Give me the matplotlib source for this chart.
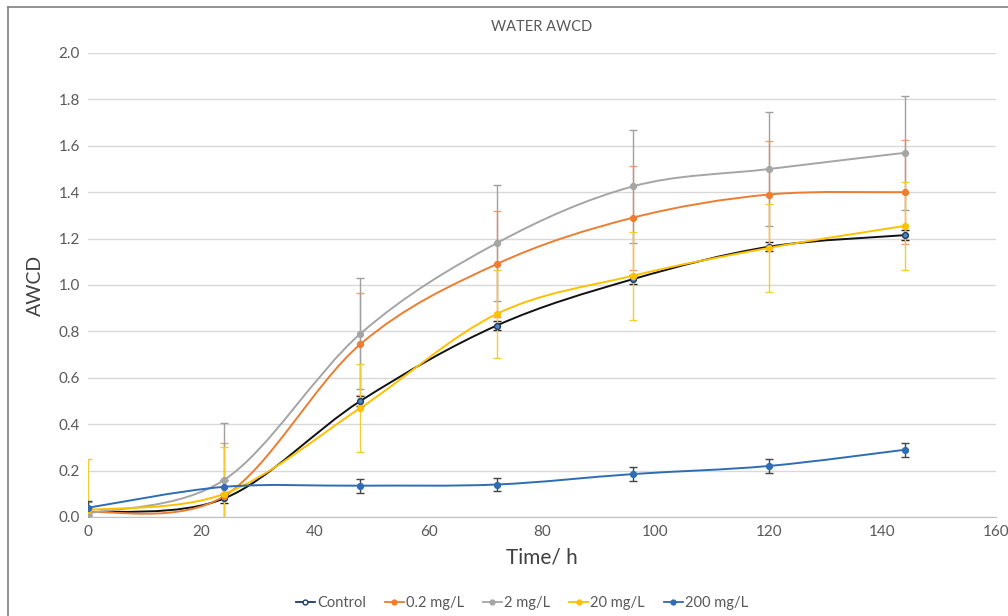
import numpy as np
import matplotlib
matplotlib.use("Agg")
import matplotlib.pyplot as plt
from matplotlib.path import Path
from matplotlib.patches import PathPatch
from matplotlib.lines import Line2D

plt.rcParams['font.family'] = ['Lato', 'DejaVu Sans']

time_h = [0, 24, 48, 72, 96, 120, 144]
series_names = ["Control", "0.2 mg/L", "2 mg/L", "20 mg/L", "200 mg/L"]
control = [0.02, 0.08, 0.50, 0.825, 1.025, 1.165, 1.215]
mg_0_2 = [0.02, 0.09, 0.745, 1.09, 1.29, 1.39, 1.40]
mg_2 = [0.015, 0.16, 0.79, 1.18, 1.425, 1.50, 1.57]
mg_20 = [0.03, 0.10, 0.47, 0.875, 1.04, 1.16, 1.255]
mg_200 = [0.04, 0.13, 0.135, 0.14, 0.185, 0.22, 0.29]

err_control = [0.02, 0.02, 0.02, 0.02, 0.02, 0.02, 0.02]
err_0_2 = [0.02, 0.23, 0.22, 0.23, 0.225, 0.23, 0.225]
err_2 = [0.05, 0.245, 0.24, 0.25, 0.245, 0.245, 0.245]
err_20 = [0.22, 0.20, 0.19, 0.19, 0.19, 0.19, 0.19]
err_200 = [0.03, 0.03, 0.03, 0.03, 0.03, 0.03, 0.03]

values = [control, mg_0_2, mg_2, mg_20, mg_200]
errors = [err_control, err_0_2, err_2, err_20, err_200]
line_colors = ["#111111", "#ED7D31", "#A5A5A5", "#FFC000", "#2E6DB4"]
marker_face = ["#4F86B8", "#ED7D31", "#A5A5A5", "#FFC000", "#2E6DB4"]
marker_edge = ["#1F3864", "#ED7D31", "#A5A5A5", "#FFC000", "#2E6DB4"]
err_colors = ["#222222", "#F0A070", "#A0A0A0", "#F2CC30", "#444444"]


def smooth_path(x, y):
    pts = np.column_stack([x, y]).astype(float)
    n = len(pts)
    verts = [tuple(pts[0])]
    codes = [Path.MOVETO]
    for i in range(n - 1):
        p0 = pts[i - 1] if i > 0 else pts[i]
        p1 = pts[i]
        p2 = pts[i + 1]
        p3 = pts[i + 2] if i + 2 < n else pts[i + 1]
        c1 = p1 + (p2 - p0) / 6.0
        c2 = p2 - (p3 - p1) / 6.0
        verts += [tuple(c1), tuple(c2), tuple(p2)]
        codes += [Path.CURVE4] * 3
    return Path(verts, codes)


fig = plt.figure(figsize=(10.08, 6.16), dpi=100)
# chart frame: only top and left edges visible (cropped image)
fig.add_artist(Line2D([8 / 1008, 1.0], [1 - 6.5 / 616, 1 - 6.5 / 616],
                      transform=fig.transFigure, color="#808080", linewidth=1.2))
fig.add_artist(Line2D([8 / 1008, 8 / 1008], [0.0, 1 - 6.5 / 616],
                      transform=fig.transFigure, color="#808080", linewidth=1.2))

ax = fig.add_axes([88 / 1008, 1 - 517 / 616, 908 / 1008, 464 / 616])

ax.set_xlim(0, 160)
ax.set_ylim(0, 2.0)
ax.set_xticks(np.arange(0, 161, 20))
ax.set_yticks(np.arange(0, 2.01, 0.2))
ax.set_yticklabels([f"{v:.1f}" for v in np.arange(0, 2.01, 0.2)])
ax.grid(axis="y", color="#D9D9D9", linewidth=1.0)
ax.set_axisbelow(True)
for s in ["top", "right", "left"]:
    ax.spines[s].set_visible(False)
ax.spines["bottom"].set_color("#BFBFBF")
ax.tick_params(axis="both", length=0, labelsize=11, colors="#595959", pad=6)

order = [4, 2, 1, 3, 0]
for i in order:
    vals = values[i]
    ax.errorbar(time_h, vals, yerr=errors[i], fmt="none", ecolor=err_colors[i],
                elinewidth=1.0, capsize=3, capthick=1.0, zorder=2 + i * 0.1)
    patch = PathPatch(smooth_path(time_h, vals), facecolor="none",
                      edgecolor=line_colors[i], linewidth=1.4,
                      zorder=3 + i * 0.1)
    ax.add_patch(patch)
    ax.plot(time_h, vals, linestyle="none", marker="o", markersize=4.2,
            markerfacecolor=marker_face[i], markeredgecolor=marker_edge[i],
            zorder=4 + i * 0.1)

ax.set_title("WATER AWCD", fontsize=10.5, color="#595959", pad=16)
ax.set_xlabel("Time/ h", fontsize=15, color="#404040", labelpad=6)
ax.set_ylabel("AWCD", fontsize=14, color="#404040", labelpad=10)

handles = []
leg_line_colors = ["#1F3864", "#ED7D31", "#A5A5A5", "#FFC000", "#2E6DB4"]
leg_face = ["white", "#ED7D31", "#A5A5A5", "#FFC000", "#2E6DB4"]
for i, name in enumerate(series_names):
    handles.append(Line2D([0], [0], color=leg_line_colors[i], linewidth=1.3,
                          marker="o", markersize=3.5,
                          markerfacecolor=leg_face[i],
                          markeredgecolor=leg_line_colors[i], label=name))
fig.legend(handles=handles, loc="center", bbox_to_anchor=(522 / 1008, 1 - 603 / 616),
           ncol=5, frameon=False, fontsize=10.5, handlelength=1.3,
           handletextpad=0.15, columnspacing=1.3, labelcolor="#595959")

fig.savefig("out.png", dpi=100)
